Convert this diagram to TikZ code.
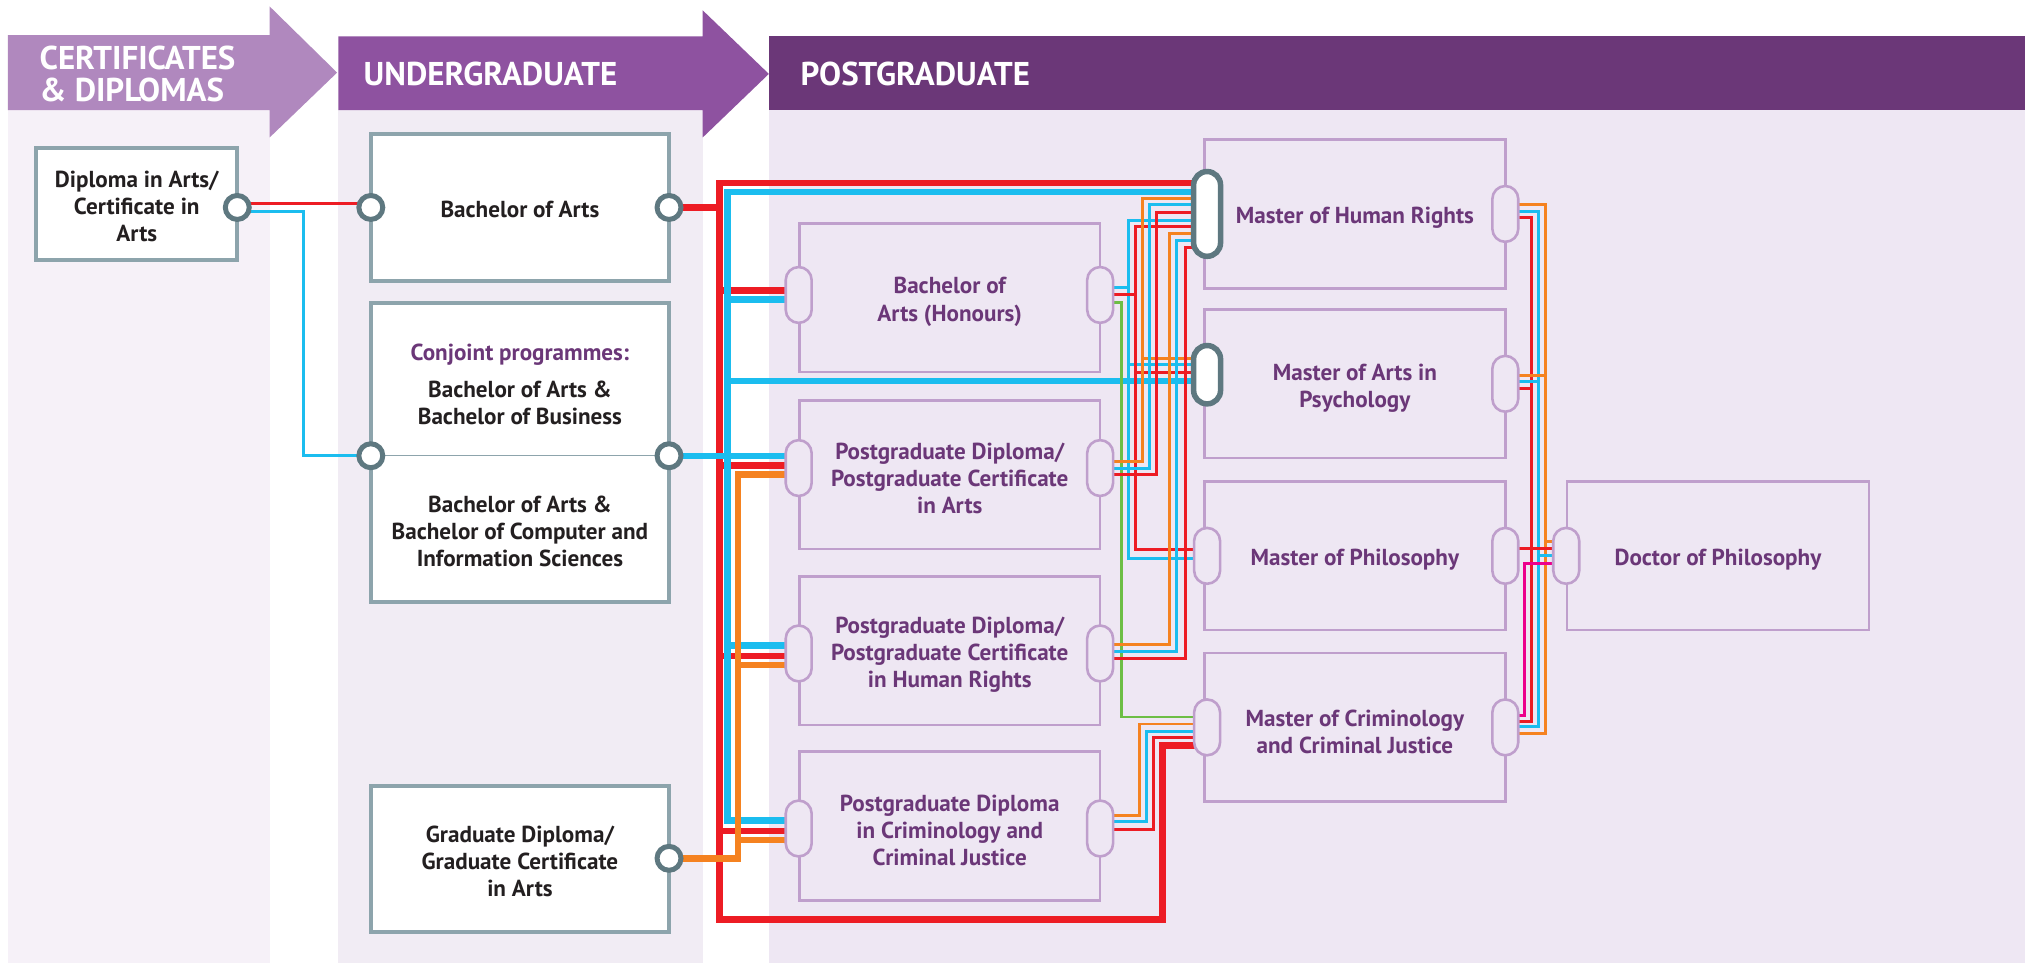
\documentclass[tikz,border=0pt]{standalone}
\usepackage{fontspec}
\setmainfont{PT Sans}
\definecolor{hdrone}{HTML}{B088BE}
\definecolor{hdrtwo}{HTML}{8E52A0}
\definecolor{hdrthree}{HTML}{6B3778}
\definecolor{bgone}{HTML}{F6F1F8}
\definecolor{bgtwo}{HTML}{F1ECF4}
\definecolor{bgthree}{HTML}{EEE7F3}
\definecolor{ugframe}{HTML}{8DA4AC}
\definecolor{portdark}{HTML}{5E7880}
\definecolor{pgframe}{HTML}{BF9FCC}
\definecolor{pgink}{HTML}{6B3778}
\definecolor{ink}{HTML}{231F20}
\definecolor{lred}{HTML}{ED1C24}
\definecolor{lcyan}{HTML}{1BBDEF}
\definecolor{lorange}{HTML}{F58220}
\definecolor{lgreen}{HTML}{6DBE45}
\definecolor{lpink}{HTML}{EC008C}

\begin{document}
\begin{tikzpicture}[x=0.013cm,y=-0.013cm,
    hdrtext/.style={anchor=west,align=left,text=white,inner xsep=0pt,font=\bfseries\fontsize{9.4}{9}\selectfont},
    ugbox/.style={draw=ugframe,fill=white,line width=0.4mm,minimum width=29.9mm},
    ugtxt/.style={align=center,text=ink,yshift=-0.6pt,font=\bfseries\fontsize{6.6}{7.74}\selectfont},
    pgbox/.style={draw=pgframe,line width=0.26mm,minimum width=30.16mm,minimum height=14.9mm},
    pgtxt/.style={align=center,text=pgink,yshift=-1.2pt,font=\bfseries\fontsize{6.6}{7.74}\selectfont},
    circport/.style={circle,draw=portdark,fill=white,line width=0.5mm,minimum size=2.4mm,inner sep=0pt},
    pillport/.style={draw=pgframe,fill=bgthree,line width=0.26mm,rounded corners=1.3mm,minimum width=2.6mm,
        minimum height=5.6mm,inner sep=0pt},
    bigport/.style={draw=portdark,fill=white,line width=0.55mm,rounded corners=1.35mm,minimum width=2.7mm,
        inner sep=0pt},
    thickred/.style={draw=lred,line width=0.65mm},
    thickcyan/.style={draw=lcyan,line width=0.65mm},
    thickorange/.style={draw=lorange,line width=0.65mm},
    thinred/.style={draw=lred,line width=0.3mm},
    thincyan/.style={draw=lcyan,line width=0.3mm},
    thinorange/.style={draw=lorange,line width=0.3mm},
    thingreen/.style={draw=lgreen,line width=0.3mm},
    thinpink/.style={draw=lpink,line width=0.3mm}]
  \useasboundingbox (0,0) rectangle (1568,743);
  \fill[white] (0,0) rectangle (1568,743);

  % columns and header arrows
  \fill[bgone] (6,85) rectangle (208,743);
  \fill[bgtwo] (261,85) rectangle (542,743);
  \fill[bgthree] (593,85) rectangle (1562,743);
  \fill[hdrone] (6,27) -- (208,27) -- (208,5) -- (260,56) -- (208,106) -- (208,85) -- (6,85) -- cycle;
  \fill[hdrtwo] (261,28) -- (542,28) -- (542,8) -- (593,57) -- (542,106) -- (542,85) -- (261,85) -- cycle;
  \fill[hdrthree] (593,28) rectangle (1562,85);
  \node[hdrtext] (certhead) at (30,57) {CERTIFICATES\\\& DIPLOMAS};
  \node[hdrtext] (ughead) at (280,57) {UNDERGRADUATE};
  \node[hdrtext] (pghead) at (617,57) {POSTGRADUATE};

  % certificate and undergraduate boxes
  \node[ugbox,minimum width=20.15mm,minimum height=11.2mm] (dipbox) at (105.5,157.5) {};
  \node[ugbox,minimum height=14.8mm] (babox) at (401,160) {};
  \node[ugbox,minimum height=29.9mm] (conjbox) at (401,349) {};
  \node[ugbox,minimum height=14.7mm] (gdbox) at (401,662.5) {};
  \node[ugtxt] (diptxt) at (dipbox) {Diploma in Arts/\\Certificate in\\Arts};
  \node[ugtxt] (batxt) at (babox) {Bachelor of Arts};
  \node[ugtxt,text=pgink] (conjhead) at (401,272) {Conjoint programmes:};
  \node[ugtxt] (conjtop) at (401,309) {Bachelor of Arts \&\\Bachelor of Business};
  \node[ugtxt] (conjbot) at (401,408) {Bachelor of Arts \&\\Bachelor of Computer and\\Information Sciences};
  \node[ugtxt] (gdtxt) at (gdbox) {Graduate Diploma/\\Graduate Certificate\\in Arts};

  % postgraduate boxes
  \node[pgbox] (honsbox) at (732.5,229.5) {};
  \node[pgbox] (pgabox) at (732.5,366) {};
  \node[pgbox] (pghrbox) at (732.5,502) {};
  \node[pgbox] (pgcjbox) at (732.5,637) {};
  \node[pgbox] (mhrbox) at (1045,165) {};
  \node[pgbox] (mapbox) at (1045,296) {};
  \node[pgbox] (mphilbox) at (1045,428.7) {};
  \node[pgbox] (mcjbox) at (1045,561) {};
  \node[pgbox,minimum width=30.3mm] (phdbox) at (1325,428.7) {};
  \node[pgtxt] (honstxt) at (honsbox) {Bachelor of\\Arts (Honours)};
  \node[pgtxt] (pgatxt) at (pgabox) {Postgraduate Diploma/\\Postgraduate Certificate\\in Arts};
  \node[pgtxt] (pghrtxt) at (pghrbox) {Postgraduate Diploma/\\Postgraduate Certificate\\in Human Rights};
  \node[pgtxt] (pgcjtxt) at (pgcjbox) {Postgraduate Diploma\\in Criminology and\\Criminal Justice};
  \node[pgtxt] (mhrtxt) at (mhrbox) {Master of Human Rights};
  \node[pgtxt] (maptxt) at (mapbox) {Master of Arts in\\Psychology};
  \node[pgtxt] (mphiltxt) at (mphilbox) {Master of Philosophy};
  \node[pgtxt] (mcjtxt) at (mcjbox) {Master of Criminology\\and Criminal Justice};
  \node[pgtxt] (phdtxt) at (phdbox) {Doctor of Philosophy};

  % port centres
  \coordinate (dipR) at (183,160);
  \coordinate (baL) at (286,160);
  \coordinate (baR) at (516,160);
  \coordinate (conjL) at (286,351.5);
  \coordinate (conjR) at (516,351.5);
  \coordinate (gdR) at (516,662);
  \coordinate (honsL) at (616,227.5);
  \coordinate (honsR) at (848.5,227.5);
  \coordinate (pgaL) at (616,361);
  \coordinate (pgaR) at (848.5,361);
  \coordinate (pghrL) at (616,504);
  \coordinate (pghrR) at (848.5,504);
  \coordinate (pgcjL) at (616,639);
  \coordinate (pgcjR) at (848.5,639);
  \coordinate (mhrL) at (931,165);
  \coordinate (mhrR) at (1161,165);
  \coordinate (mapL) at (931,289);
  \coordinate (mapR) at (1161,296);
  \coordinate (mphilL) at (931,428.7);
  \coordinate (mphilR) at (1161,428.7);
  \coordinate (mcjL) at (931,561);
  \coordinate (mcjR) at (1161,561);
  \coordinate (phdL) at (1208,428.7);

  \draw[ugframe,line width=0.15mm] (conjL) -- (conjR);

  % diploma links
  \draw[thinred] (dipR |- 0,157) -- (baL |- 0,157);
  \draw[thincyan] (dipR |- 0,163) -| (234,351.5) -- (conjL);

  % thick links from undergraduate
  \draw[thickred] (baR) -- (555,160) |- (mhrL |- 0,141);
  \draw[thickred] (555,158) |- (896.5,709) |- (mcjL |- 0,575);
  \foreach \y/\n in {224/honsL,359/pgaL,506/pghrL,641/pgcjL}
    \draw[thickred] (555,\y) -- (\n |- 0,\y);
  \draw[thickcyan] (mhrL |- 0,148) -| (561,633) -- (pgcjL |- 0,633);
  \draw[thickcyan] (conjR) -- (pgaL |- 0,351.5);
  \foreach \y/\n in {231/honsL,294/mapL,498/pghrL}
    \draw[thickcyan] (561,\y) -- (\n |- 0,\y);
  \draw[thickorange] (gdR) -| (569,366) -- (pgaL |- 0,366);
  \foreach \y/\n in {513/pghrL,648/pgcjL}
    \draw[thickorange] (569,\y) -- (\n |- 0,\y);

  % honours links
  \draw[thincyan] (mhrL |- 0,170) -| (870,431) -- (mphilL |- 0,431);
  \draw[thincyan] (honsR |- 0,222) -- (870,222);
  \draw[thincyan] (870,281.5) -- (mapL |- 0,281.5);
  \draw[thinred] (mhrL |- 0,175) -| (875.4,424) -- (mphilL |- 0,424);
  \draw[thinred] (honsR |- 0,227.5) -- (875.4,227.5);
  \draw[thinred] (875.4,287) -- (mapL |- 0,287);
  \draw[thingreen] (honsR |- 0,233) -| (864.6,553) -- (mcjL |- 0,553);

  % postgraduate diploma links
  \draw[thinorange] (pgaR |- 0,356) -| (881,153) -- (mhrL |- 0,153);
  \draw[thinorange] (881,276.4) -- (mapL |- 0,276.4);
  \draw[thincyan] (pgaR |- 0,361) -| (886.4,158) -- (mhrL |- 0,158);
  \draw[thinred] (pgaR |- 0,366) -| (892,164) -- (mhrL |- 0,164);
  \draw[thinorange] (pghrR |- 0,497) -| (902,180) -- (mhrL |- 0,180);
  \draw[thincyan] (pghrR |- 0,502.5) -| (907.5,185.6) -- (mhrL |- 0,185.6);
  \draw[thinred] (pghrR |- 0,508) -| (914,191) -- (mhrL |- 0,191);
  \draw[thinorange] (pgcjR |- 0,628.6) -| (878.7,558.4) -- (mcjL |- 0,558.4);
  \draw[thincyan] (pgcjR |- 0,633.7) -| (884.4,563.8) -- (mcjL |- 0,563.8);
  \draw[thinred] (pgcjR |- 0,639.4) -| (890,569) -- (mcjL |- 0,569);

  % masters to doctorate
  \draw[thinorange] (mhrR |- 0,158) -| (1192,566) -- (mcjR |- 0,566);
  \draw[thincyan] (mhrR |- 0,163) -| (1186.5,560.4) -- (mcjR |- 0,560.4);
  \draw[thinred] (mhrR |- 0,168) -| (1181,556.6) -- (mcjR |- 0,556.6);
  \draw[thinorange] (mapR |- 0,289.7) -- (1192,289.7);
  \draw[thincyan] (mapR |- 0,294.4) -- (1186.5,294.4);
  \draw[thinred] (mapR |- 0,300) -- (1181,300);
  \draw[thinred] (mphilR |- 0,423.4) -- (phdL |- 0,423.4);
  \draw[thinorange] (1192,417.8) -- (phdL |- 0,417.8);
  \draw[thincyan] (1186.5,428.8) -- (phdL |- 0,428.8);
  \draw[thinpink] (mcjR |- 0,551.5) -| (1175.5,434.5) -- (phdL |- 0,434.5);

  % port shapes on top
  \foreach \p in {dipR,baL,baR,conjL,conjR,gdR}
    \node[circport] (\p pin) at (\p) {};
  \foreach \p in {honsL,honsR,pgaL,pgaR,pghrL,pghrR,pgcjL,pgcjR,mhrR,mapR,mphilL,mphilR,mcjL,mcjR,phdL}
    \node[pillport] (\p pin) at (\p) {};
  \node[bigport,minimum height=8.5mm] (mhrLpin) at (mhrL) {};
  \node[bigport,minimum height=5.85mm] (mapLpin) at (mapL) {};
\end{tikzpicture}
\end{document}
